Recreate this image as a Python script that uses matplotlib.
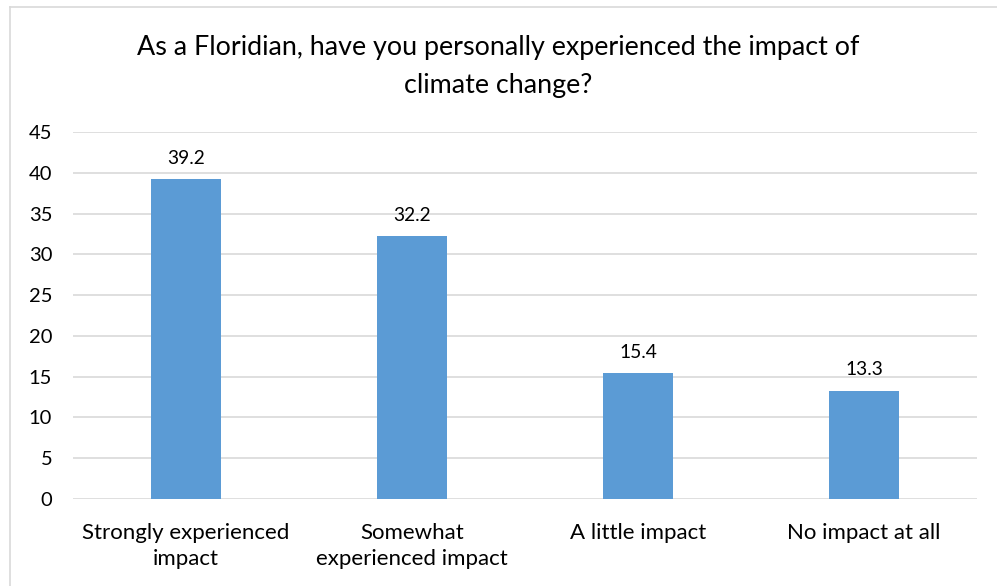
import matplotlib
matplotlib.use("Agg")
import matplotlib.pyplot as plt
from matplotlib.lines import Line2D

categories = ["Strongly experienced\nimpact", "Somewhat\nexperienced impact",
              "A little impact", "No impact at all"]
values = [39.2, 32.2, 15.4, 13.3]
yticks = [0, 5, 10, 15, 20, 25, 30, 35, 40, 45]

plt.rcParams['font.family'] = ['Lato', 'DejaVu Sans']

fig = plt.figure(figsize=(9.97, 5.86), dpi=100)
ax = fig.add_axes([73/997, 1-499/586, 904/997, 367/586])

x = range(len(categories))
bars = ax.bar(x, values, width=0.31, color="#5B9BD5", zorder=3)
for b, v in zip(bars, values):
    ax.annotate(f"{v}", (b.get_x()+b.get_width()/2, v), xytext=(0, 9),
                textcoords="offset points", ha="center", va="bottom", fontsize=13.8)

ax.set_xlim(-0.5, 3.5)
ax.set_ylim(0, 45)
ax.set_yticks(yticks)
ax.set_xticks(list(x))
ax.set_xticklabels(categories, fontsize=16, linespacing=1.42)
ax.tick_params(axis="y", labelsize=14.5, length=0, pad=15)
ax.tick_params(axis="x", length=0, pad=17)
ax.yaxis.grid(True, color="#D9D9D9", linewidth=1.2, zorder=0)
for s in ax.spines.values():
    s.set_visible(False)

fig.text(0.5, 1-66.5/586, "As a Floridian, have you personally experienced the impact of\nclimate change?",
         ha="center", va="center", fontsize=19.4, linespacing=1.6)

# chart border
fig.add_artist(Line2D([10/997, 10/997], [0, 1-7/586], color="#D9D9D9", linewidth=1.2))
fig.add_artist(Line2D([10/997, 1], [1-7/586, 1-7/586], color="#D9D9D9", linewidth=1.2))

fig.savefig("out.png", dpi=100)
